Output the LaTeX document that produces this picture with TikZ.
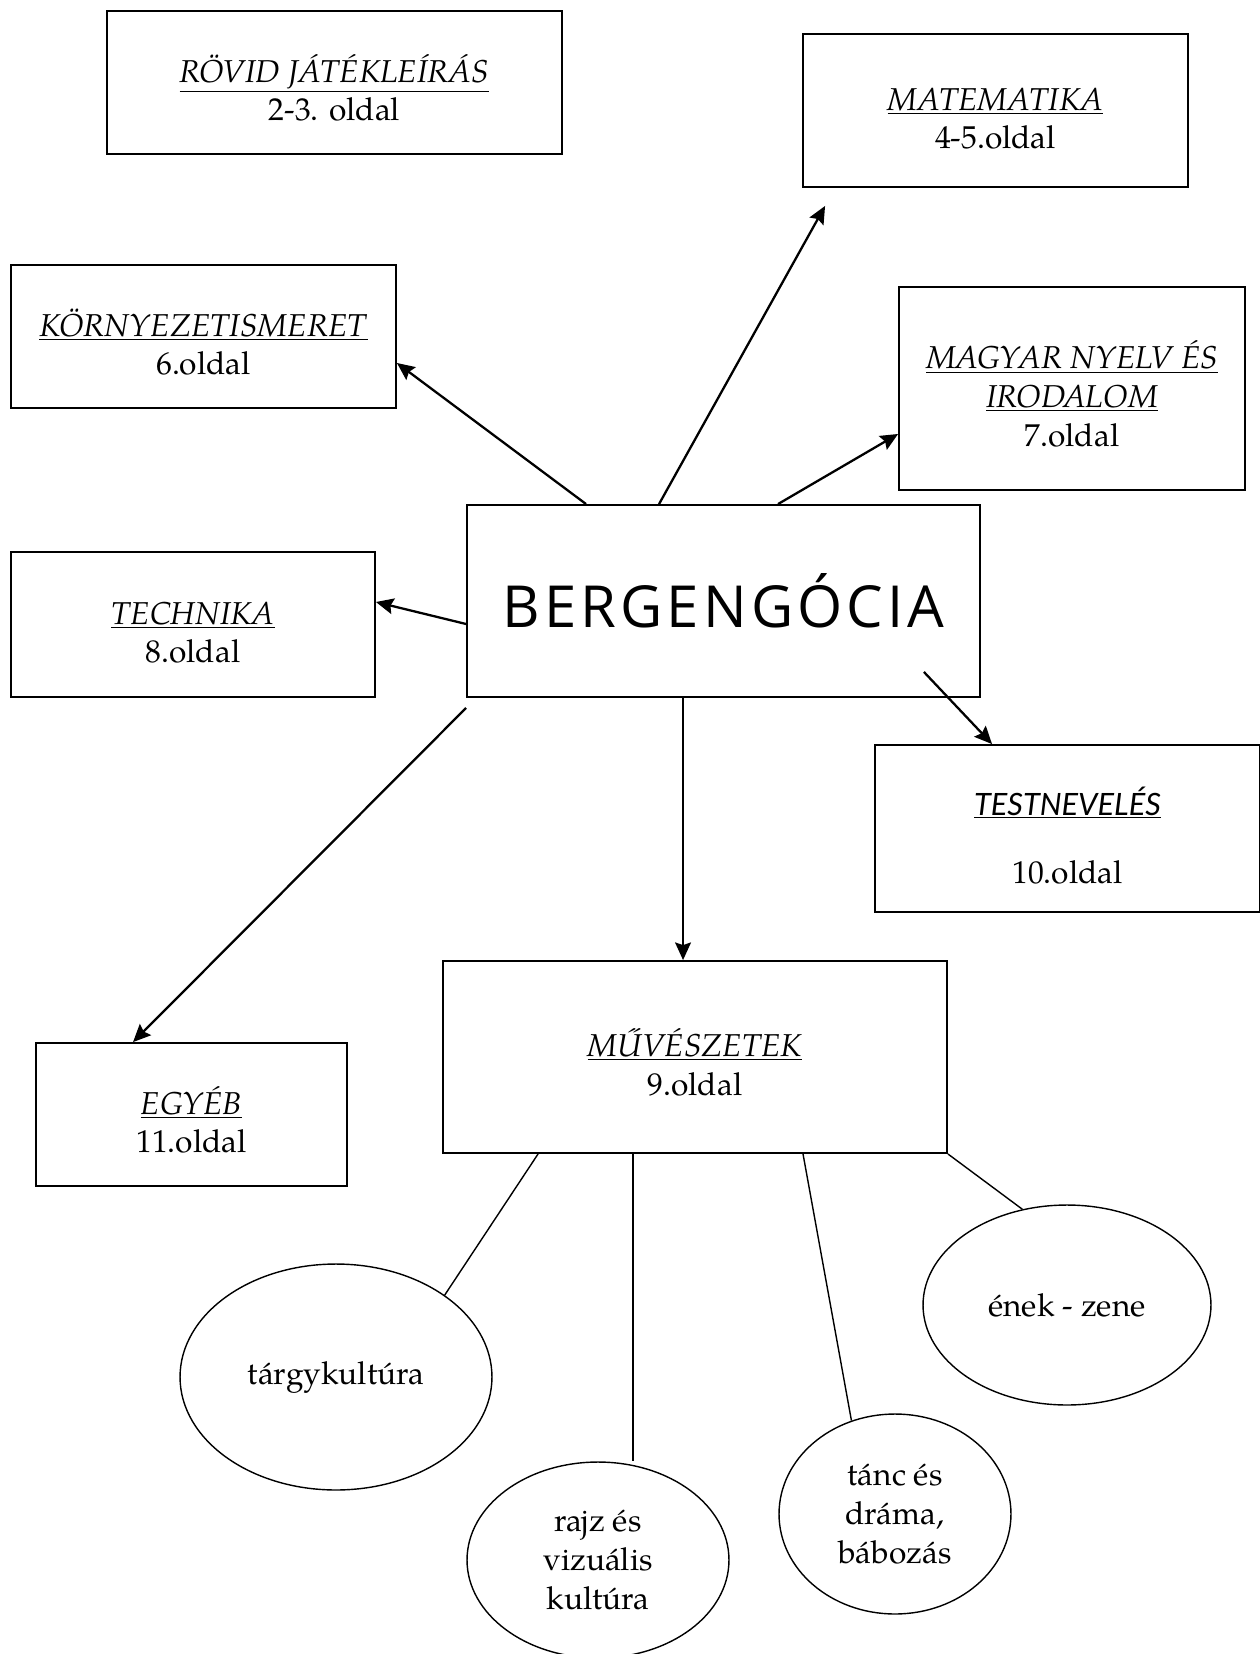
\documentclass[tikz,border=0pt]{standalone}
\usepackage{fontspec}
\setmainfont{texgyrepagella}[Extension=.otf, UprightFont=*-regular, ItalicFont=*-italic, BoldFont=*-bold]
\newfontfamily\cimfont{Open Sans}[LetterSpace=7]
\newfontfamily\testfont{Lato}
\newcommand\cim[1]{\rule{0pt}{22pt}\underline{\textit{#1}}}
\usetikzlibrary{calc,positioning,shapes.geometric,arrows.meta}

\begin{document}
\begin{tikzpicture}[x=0.02cm, y=-0.02cm,
  tema/.style={draw, line width=1.1pt, inner sep=0pt, align=center, font=\fontsize{18}{22}\selectfont},
  ag/.style={ellipse, draw, line width=0.8pt, inner sep=0pt, align=center, font=\fontsize{18}{22}\selectfont},
  nyil/.style={line width=1.3pt, -{Stealth[length=10pt,width=9pt,inset=1.5pt]}},
  vonal/.style={line width=0.8pt}
]
  \useasboundingbox (0,0) rectangle (1260,1654);
  \node[tema, minimum width=9.10cm, minimum height=2.86cm] (rovid) at (334.5,82.5) {\cim{RÖVID JÁTÉKLEÍRÁS}\\2-3. oldal};
  \node[tema, minimum width=7.70cm, minimum height=3.06cm] (matek) at (995.5,110.5) {\cim{MATEMATIKA}\\4-5.oldal};
  \node[tema, minimum width=7.70cm, minimum height=2.86cm] (korny) at (203.5,336.5) {\cim{KÖRNYEZETISMERET}\\6.oldal};
  \node[tema, minimum width=6.92cm, minimum height=4.06cm] (magyar) at (1072,388.5) {\cim{MAGYAR NYELV ÉS}\\\underline{\textit{IRODALOM}}\\7.oldal};
  \node[tema, minimum width=10.26cm, minimum height=3.84cm, font=\cimfont\fontsize{33}{38}\selectfont] (berg) at (723.5,601) {BERGENGÓCIA};
  \node[tema, minimum width=7.28cm, minimum height=2.90cm] (technika) at (193,624.5) {\cim{TECHNIKA}\\8.oldal};
  \node[tema, minimum width=7.70cm, minimum height=3.34cm] (testnev) at (1067.5,828.5) {\rule{0pt}{24pt}{\testfont\itshape\fontsize{17.5}{22}\selectfont\underline{TESTNEVELÉS}}\\[17pt]10.oldal};
  \node[tema, minimum width=10.08cm, minimum height=3.84cm] (muv) at (695,1057) {\cim{MŰVÉSZETEK}\\9.oldal};
  \node[tema, minimum width=6.22cm, minimum height=2.86cm] (egyeb) at (191.5,1114.5) {\cim{EGYÉB}\\11.oldal};

  \node[ag, minimum width=6.24cm, minimum height=4.52cm] (targy) at (336,1377) {tárgykultúra};
  \node[ag, minimum width=5.24cm, minimum height=3.92cm] (rajz) at (598,1560) {rajz és\\vizuális\\kultúra};
  \node[ag, minimum width=4.64cm, minimum height=4.00cm] (tanc) at (895,1514) {tánc és\\dráma,\\bábozás};
  \node[ag, minimum width=5.76cm, minimum height=4.00cm] (enek) at (1067,1305) {ének - zene};

  \draw[nyil] ([xshift=2.40cm]berg.north west) -- ([yshift=-0.53cm]korny.east);
  \draw[nyil] ([xshift=3.86cm]berg.north west) -- ([xshift=0.46cm,yshift=-0.36cm]matek.south west);
  \draw[nyil] ([xshift=6.24cm]berg.north west) -- ([yshift=-0.91cm]magyar.west);
  \draw[nyil] ([yshift=-0.46cm]berg.west) -- ([yshift=0.45cm]technika.east);
  \draw[nyil] ([xshift=-1.14cm,yshift=0.52cm]berg.south east) -- ([xshift=2.36cm]testnev.north west);
  \draw[nyil] ([yshift=-0.20cm]berg.south west) -- ([xshift=1.96cm]egyeb.north west);
  \coordinate (le) at ([xshift=4.34cm]berg.south west);
  \draw[nyil] (le) -- (le |- muv.north);

  \draw[vonal] ([xshift=1.92cm]muv.south west) -- (targy.37);
  \coordinate (rajzfel) at ([xshift=3.82cm]muv.south west);
  \draw[vonal] (rajzfel) -- (rajzfel |- rajz.north);
  \draw[vonal] ([xshift=7.22cm]muv.south west) -- (tanc.115);
  \draw[vonal] (muv.south east) -- (enek.115);
\end{tikzpicture}
\end{document}
